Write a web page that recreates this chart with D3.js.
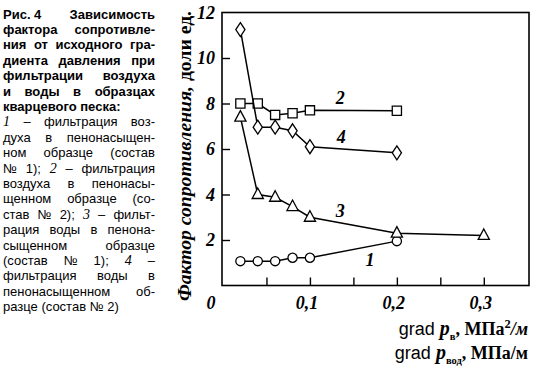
<!DOCTYPE html>
<html>
<head>
<meta charset="utf-8">
<script src="https://cdn.jsdelivr.net/npm/d3@7"></script>
<style>
  html, body { margin: 0; padding: 0; background: #fff; }
  svg { display: block; }
</style>
</head>
<body>
<svg id="chart" width="542" height="375"></svg>
<script>
// ---------- data ----------
const xTicks = [0.05, 0.1, 0.15, 0.2, 0.25, 0.3];
const xTickLabels = ["0,1", "0,2", "0,3"];
const xLabelValues = [0.1, 0.2, 0.3];
const yTicks = [2, 4, 6, 8, 10];
const yTickLabels = ["2", "4", "6", "8", "10", "12"];
const yLabelValues = [2, 4, 6, 8, 10, 12];

const s1x = [0.02, 0.04, 0.06, 0.08, 0.10, 0.20];
const s1y = [1.07, 1.07, 1.07, 1.22, 1.22, 1.95];
const s2x = [0.02, 0.04, 0.06, 0.08, 0.10, 0.20];
const s2y = [8.00, 8.00, 7.50, 7.57, 7.70, 7.68];
const s3x = [0.02, 0.04, 0.06, 0.08, 0.10, 0.20, 0.30];
const s3y = [7.40, 4.00, 3.88, 3.47, 3.00, 2.30, 2.20];
const s4x = [0.02, 0.04, 0.06, 0.08, 0.10, 0.20];
const s4y = [11.25, 6.96, 6.96, 6.80, 6.10, 5.83];

const seriesNames = ["1", "2", "3", "4"];
const seriesLabelX = [0.169, 0.135, 0.135, 0.136];
const seriesLabelY = [0.86, 7.98, 3.01, 6.26];

const yTitleItalic = "Фактор сопротивления, ";
const yTitleUpright = "доли ед.";

const captionBold = [
  "Рис.\u00a04 Зависимость",
  "фактора сопротивле-",
  "ния от исходного гра-",
  "диента давления при",
  "фильтрации воздуха",
  "и воды в образцах",
  "кварцевого песка:"
];
const captionNormal = [
  "*1 – фильтрация воз-",
  "духа в пенонасыщен-",
  "ном образце (состав",
  "№ 1); *2 – фильтрация",
  "воздуха в пенонасы-",
  "щенном образце (со-",
  "став № 2); *3 – фильт-",
  "рация воды в пенона-",
  "сыщенном образце",
  "(состав № 1); *4 –",
  "фильтрация воды в",
  "пенонасыщенном об-",
  "разце (состав № 2)"
];

// ---------- layout ----------
const svg = d3.select("#chart");
const L = 222, R = 529, T = 12.5, B = 285.5;
const serif = "'Liberation Serif', 'Times New Roman', serif";
const sans = "'Liberation Sans', Arial, sans-serif";

const x = d3.scaleLinear().domain([0, 0.352]).range([L + 1, R]);
const y = d3.scaleLinear().domain([0, 12]).range([B, T]);

// frame
svg.append("rect").attr("x", L).attr("y", T).attr("width", R - L).attr("height", B - T)
  .attr("fill", "none").attr("stroke", "#000").attr("stroke-width", 1.6);

// inward ticks via axes
const xAxis = d3.axisTop(x).tickValues(xTicks).tickSize(8).tickFormat("");
const gx = svg.append("g").attr("transform", `translate(0,${B})`).call(xAxis);
gx.select(".domain").remove();
gx.selectAll("line").attr("stroke", "#000").attr("stroke-width", 1.4);

const yAxis = d3.axisRight(y).tickValues(yTicks).tickSize(8).tickFormat("");
const gy = svg.append("g").attr("transform", `translate(${L},0)`).call(yAxis);
gy.select(".domain").remove();
gy.selectAll("line").attr("stroke", "#000").attr("stroke-width", 1.4);

// tick labels
svg.selectAll(".xl").data(xLabelValues).enter().append("text")
  .attr("x", d => x(d) - 3).attr("y", 309)
  .attr("text-anchor", "middle")
  .style("font-family", serif).attr("font-weight", "bold").attr("font-style", "italic")
  .attr("font-size", 18).text((d, i) => xTickLabels[i]);

svg.selectAll(".yl").data(yLabelValues).enter().append("text")
  .attr("x", 215).attr("y", d => y(d) + 6)
  .attr("text-anchor", "end")
  .style("font-family", serif).attr("font-weight", "bold").attr("font-style", "italic")
  .attr("font-size", 18).text((d, i) => yTickLabels[i]);

svg.append("text").attr("x", 211).attr("y", 309).attr("text-anchor", "middle")
  .style("font-family", serif).attr("font-weight", "bold").attr("font-style", "italic")
  .attr("font-size", 18).text("0");

// y title
const yt = svg.append("text")
  .attr("transform", `translate(191,${(10 + 302) / 2}) rotate(-90)`)
  .attr("text-anchor", "middle")
  .attr("textLength", 290).attr("lengthAdjust", "spacingAndGlyphs")
  .style("font-family", serif).attr("font-weight", "bold")
  .attr("font-size", 19);
yt.append("tspan").attr("font-style", "italic").text(yTitleItalic);
yt.append("tspan").attr("font-style", "normal").text(yTitleUpright);

// x titles
function xTitle(yPos, sub, sup) {
  const t = svg.append("text").attr("x", 528).attr("y", yPos).attr("text-anchor", "end")
    .style("font-family", serif).attr("font-weight", "bold").attr("font-size", 18);
  t.append("tspan").style("font-family", sans).attr("font-weight", "normal").attr("font-size", 18).text("grad ");
  t.append("tspan").attr("font-style", "italic").attr("font-size", 20).text("p");
  t.append("tspan").attr("font-size", 10.5).attr("dy", 5).text(sub);
  t.append("tspan").attr("dy", -5).text(", МПа");
  if (sup) {
    t.append("tspan").attr("font-size", 12.5).attr("dy", -7).text(sup);
    t.append("tspan").attr("dy", 7).attr("font-style", "italic").text("/м");
  } else {
    t.append("tspan").text("/м");
  }
}
xTitle(335, "в", "2");
xTitle(359, "вод", null);

// series
const series = [
  { xs: s1x, ys: s1y, shape: "circle" },
  { xs: s2x, ys: s2y, shape: "square" },
  { xs: s3x, ys: s3y, shape: "triangle" },
  { xs: s4x, ys: s4y, shape: "diamond" }
];
const line = d3.line().x(d => x(d[0])).y(d => y(d[1]));
const markerPath = {
  circle: "M4.6,0A4.6,4.6 0 1,1 -4.6,0A4.6,4.6 0 1,1 4.6,0Z",
  square: "M-4.6,-4.6H4.6V4.6H-4.6Z",
  triangle: "M0,-6.5L5.6,4H-5.6Z",
  diamond: "M0,-7L4.6,0L0,7L-4.6,0Z"
};
series.forEach(s => {
  const pts = s.xs.map((v, i) => [v, s.ys[i]]);
  svg.append("path").datum(pts).attr("d", line)
    .attr("fill", "none").attr("stroke", "#000").attr("stroke-width", 1.5);
  svg.selectAll(null).data(pts).enter().append("path")
    .attr("transform", d => `translate(${x(d[0])},${y(d[1])})`)
    .attr("d", markerPath[s.shape])
    .attr("fill", "#fff").attr("stroke", "#000").attr("stroke-width", 1.3);
});

// series labels
svg.selectAll(".sl").data(seriesNames).enter().append("text")
  .attr("x", (d, i) => x(seriesLabelX[i])).attr("y", (d, i) => y(seriesLabelY[i]))
  .attr("text-anchor", "middle")
  .style("font-family", serif).attr("font-weight", "bold").attr("font-style", "italic")
  .attr("font-size", 18).text(d => d);

// caption (justified)
const CL = 3, CR = 155, lh = 15.4;
function captionLine(str, yPos, bold, justify) {
  const words = str.split(" ");
  const els = words.map(w => {
    const italic = w.startsWith("*");
    const txt = italic ? w.slice(1) : w;
    const t = svg.append("text").attr("y", yPos)
      .style("font-family", italic ? serif : sans)
      .attr("font-style", italic ? "italic" : "normal")
      .attr("font-weight", bold ? "bold" : "normal")
      .attr("font-size", italic ? 14 : 13).text(txt);
    return t;
  });
  const widths = els.map(e => e.node().getComputedTextLength());
  const total = d3.sum(widths);
  const gap = (justify && words.length > 1) ? (CR - CL - total) / (words.length - 1) : 3.6;
  let cx = CL;
  els.forEach((e, i) => { e.attr("x", cx); cx += widths[i] + gap; });
}
captionBold.forEach((s, i) => captionLine(s, 18.5 + i * lh, true, i < captionBold.length - 1));
captionNormal.forEach((s, i) => captionLine(s, 18.5 + (i + 7) * lh, false, i < captionNormal.length - 1));
</script>
</body>
</html>
